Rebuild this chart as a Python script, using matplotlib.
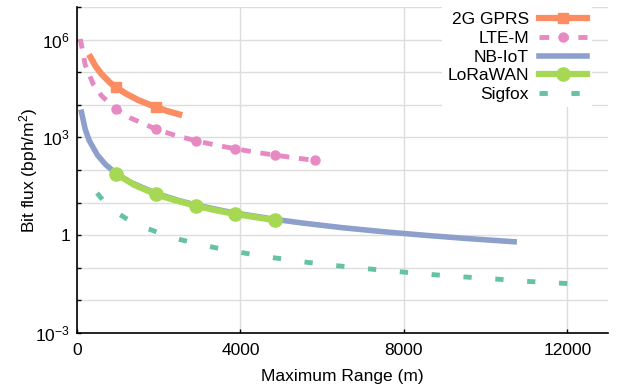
import matplotlib
matplotlib.use("Agg")
import matplotlib.pyplot as plt
import numpy as np
from matplotlib.ticker import FixedLocator, FixedFormatter, NullFormatter

plt.rcParams["font.family"] = ["Liberation Sans", "DejaVu Sans"]
plt.rcParams["mathtext.fontset"] = "custom"
plt.rcParams["mathtext.rm"] = "Liberation Sans"
plt.rcParams["mathtext.it"] = "Liberation Sans"
plt.rcParams["mathtext.default"] = "regular"

# values (range in m, flux in bph/m^2)
gprs_x = [330, 450, 600, 800, 950, 1200, 1500, 1930, 2200, 2500]
gprs_y = [2.9e5, 1.56e5, 8.8e4, 4.9e4, 3.5e4, 2.2e4, 1.4e4, 8.5e3, 6.5e3, 5.1e3]
gprs_marks = [4, 7]

ltem_x = [80, 200, 400, 600, 950, 1300, 1930, 2400, 2910, 3400, 3870, 4350, 4840, 5300, 5820]
ltem_y = [1.05e6, 1.7e5, 4.2e4, 1.9e4, 7.4e3, 4.0e3, 1.8e3, 1.16e3, 790, 580, 450, 354, 286, 239, 198]
ltem_marks = [4, 6, 8, 10, 12, 14]

nbiot_x = [110, 200, 300, 500, 700, 950, 1300, 1930, 2500, 2910, 3500, 3870, 4500, 4840,
           5500, 6500, 7500, 8500, 9500, 10700]
nbiot_y = [5.9e3, 1.8e3, 800, 288, 147, 80, 42.6, 19.3, 11.5, 8.5, 5.9, 4.8, 3.6, 3.07,
           2.38, 1.70, 1.28, 1.0, 0.80, 0.63]

lora_x = [950, 1400, 1930, 2400, 2910, 3400, 3870, 4350, 4840]
lora_y = [78, 35, 18, 11.8, 8.0, 5.8, 4.5, 3.6, 2.9]
lora_marks = [0, 2, 4, 6, 8]

sigfox_x = [490, 700, 1000, 1250, 1600, 2100, 2500, 2960, 3400, 3790, 4200, 4600, 5000, 5400,
            6240, 7050, 7830, 8690, 9440, 10280, 11080, 12000]
sigfox_y = [19.6, 9.6, 4.7, 3.0, 1.84, 1.07, 0.75, 0.54, 0.41, 0.33, 0.27, 0.22, 0.19, 0.16,
            0.12, 0.095, 0.077, 0.062, 0.053, 0.045, 0.038, 0.033]

x_ticks = [0, 4000, 8000, 12000]
y_major = [1e-3, 1, 1e3, 1e6]
y_major_labels = [r"$10^{-3}$", "1", r"$10^{3}$", r"$10^{6}$"]
y_minor = [10.0 ** k for k in range(-3, 8)]

FS = 12.5

fig = plt.figure(figsize=(6.18, 3.91), dpi=100)
ax = fig.add_axes([0.1246, 0.1483, 0.984 - 0.1246, 0.982 - 0.1483])

ax.set_yscale("log")
ax.set_xlim(0, 13000)
ax.set_ylim(1e-3, 1e7)

ax.plot(gprs_x, gprs_y, color="#fc8d62", lw=4.5, marker="s", ms=7,
        markevery=gprs_marks, label="2G GPRS", zorder=3)
ax.plot(ltem_x, ltem_y, color="#e78ac3", lw=3.5, dashes=(2, 2), marker="o", ms=6.5,
        markevery=ltem_marks, label="LTE-M", zorder=3)
ax.plot(nbiot_x, nbiot_y, color="#8da0cb", lw=4, label="NB-IoT", zorder=3)
ax.plot(lora_x, lora_y, color="#a6d854", lw=4.5, marker="o", ms=9.5,
        markevery=lora_marks, label="LoRaWAN", zorder=4)

# sigfox: stretch the gap a little so the dashes start and end on the line's ends
sf_lw, sf_on, sf_off = 3.5, 1.7, 5.0
pts = ax.transData.transform(np.column_stack([sigfox_x, sigfox_y])) * 72.0 / fig.dpi
path_len = np.sum(np.hypot(*np.diff(pts, axis=0).T)) / sf_lw
n_per = max(1, round((path_len - sf_on) / (sf_on + sf_off)))
sf_off = (path_len - sf_on) / n_per - sf_on
ax.plot(sigfox_x, sigfox_y, color="#66c2a5", lw=sf_lw,
        dashes=(sf_on, sf_off), label="Sigfox", zorder=3)

ax.xaxis.set_major_locator(FixedLocator(x_ticks))
ax.yaxis.set_major_locator(FixedLocator(y_major))
ax.yaxis.set_major_formatter(FixedFormatter(y_major_labels))
ax.yaxis.set_minor_locator(FixedLocator(y_minor))
ax.yaxis.set_minor_formatter(NullFormatter())

ax.grid(True, which="both", color="#dddddd", lw=1)
ax.set_axisbelow(True)
for side in ("top", "right"):
    ax.spines[side].set_visible(False)
for side in ("left", "bottom"):
    ax.spines[side].set_linewidth(1.2)
ax.tick_params(which="both", direction="in", length=3, width=1, labelsize=FS)
ax.tick_params(axis="x", pad=7)
ax.tick_params(axis="y", pad=5)

ax.set_xlabel("Maximum Range (m)", fontsize=FS, labelpad=8)
ax.set_ylabel("Bit flux (bph/m$^2$)", fontsize=FS)
ax.yaxis.set_label_coords(-0.07, 0.5)

leg = ax.legend(loc="upper right", bbox_to_anchor=(0.970, 1.0), markerfirst=False,
                fontsize=FS, frameon=True, handlelength=2.75, handletextpad=0.6,
                labelspacing=0.2, borderpad=0.3, borderaxespad=0.0, fancybox=False)
leg.get_frame().set_facecolor("white")
leg.get_frame().set_edgecolor("none")
leg.get_frame().set_alpha(1)

fig.savefig("out.png", dpi=100)
